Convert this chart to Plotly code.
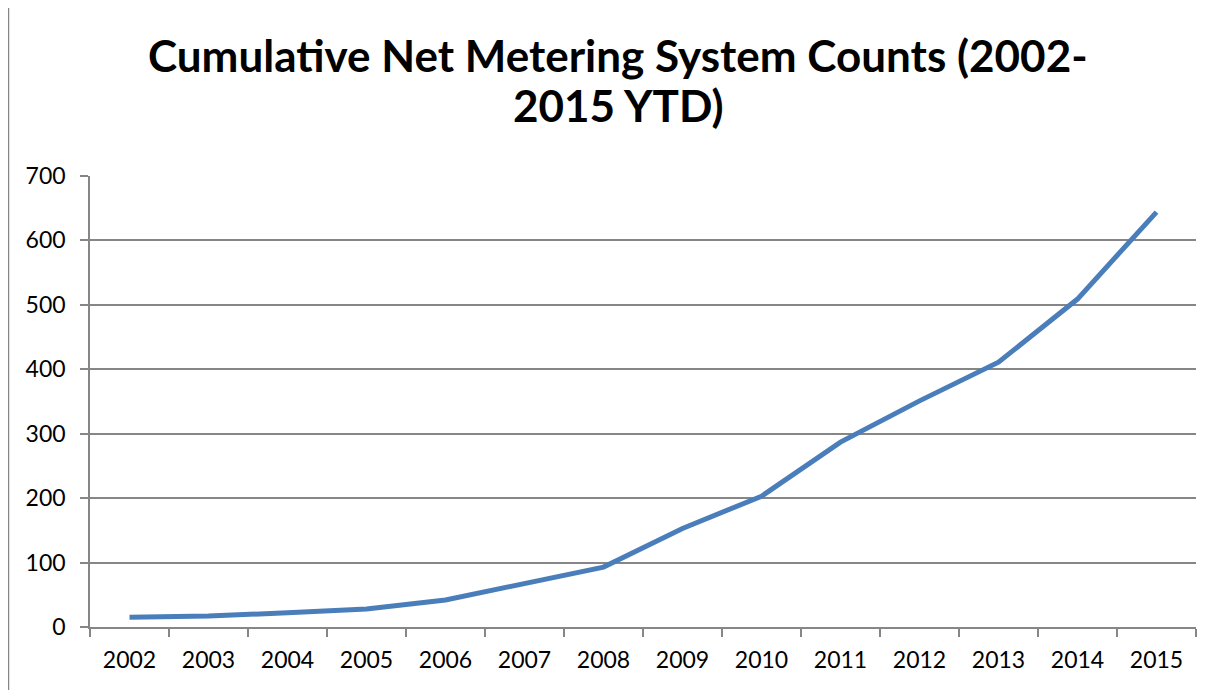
import plotly.graph_objects as go

years = ["2002", "2003", "2004", "2005", "2006", "2007", "2008",
         "2009", "2010", "2011", "2012", "2013", "2014", "2015"]
counts = [15, 17, 22, 28, 42, 68, 93, 153, 203, 287, 351, 411, 509, 644]
y_ticks = [0, 100, 200, 300, 400, 500, 600, 700]

title_line1 = "Cumulative Net Metering System Counts (2002-"
title_line2 = "2015 YTD)"

fig = go.Figure()
fig.add_trace(go.Scatter(
    x=years, y=counts, mode="lines",
    line=dict(color="#4A7EBB", width=5),
    hoverinfo="x+y",
))

axis_gray = "#868686"
font_fam = "Lato, 'Open Sans', sans-serif"
title_font = dict(family=font_fam, size=44, color="black", weight="bold")

fig.update_layout(
    width=1212, height=682,
    margin=dict(l=82, r=24, t=168, b=63),
    paper_bgcolor="white", plot_bgcolor="white",
    showlegend=False,
    font=dict(family=font_fam, color="black", size=23),
    xaxis=dict(
        type="category",
        range=[-0.5, len(years) - 0.5],
        showline=True, linecolor=axis_gray, linewidth=1.5,
        ticks="outside", tickson="boundaries", ticklen=8, tickcolor=axis_gray, tickwidth=1.5,
        showgrid=False, zeroline=False,
        tickfont=dict(size=23),
        ticklabelstandoff=12,
    ),
    yaxis=dict(
        range=[0, 700],
        tickvals=y_ticks,
        showline=True, linecolor=axis_gray, linewidth=1.5,
        ticks="outside", ticklen=8, tickcolor=axis_gray, tickwidth=1.5,
        showgrid=True, gridcolor=axis_gray, gridwidth=1.5,
        zeroline=False,
        tickfont=dict(size=23),
        ticklabelstandoff=10,
    ),
    annotations=[
        dict(text=title_line1, xref="paper", yref="paper", x=0.4774, y=1.268,
             xanchor="center", yanchor="middle", showarrow=False, font=title_font),
        dict(text=title_line2, xref="paper", yref="paper", x=0.4774, y=1.157,
             xanchor="center", yanchor="middle", showarrow=False, font=title_font),
    ],
    shapes=[
        dict(type="line", xref="paper", yref="paper",
             x0=-0.0737, x1=-0.0737, y0=-0.2, y1=1.386,
             line=dict(color=axis_gray, width=1.5)),
    ],
)

fig.write_html("out.html")
